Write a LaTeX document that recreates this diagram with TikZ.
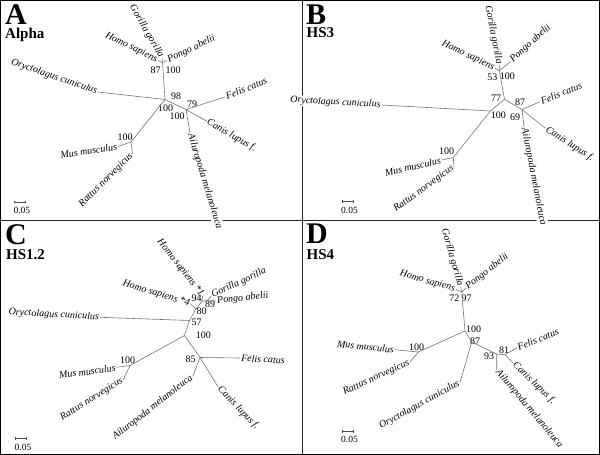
\documentclass[tikz,border=0pt]{standalone}
\usepackage{fontspec}
\setmainfont{Liberation Serif}
\usetikzlibrary{arrows.meta}

\begin{document}
\begin{tikzpicture}[x=1pt, y=-1pt,
  br/.style={draw=black!55, line width=0.6pt},
  tax/.style={font=\fontsize{10}{10}\selectfont\itshape, inner sep=1pt},
  cut/.style={tax, fill=white},
  bs/.style={font=\fontsize{10}{10}\selectfont, inner sep=0pt},
  let/.style={font=\fontsize{30}{30}\selectfont\bfseries, anchor=base west, inner sep=0pt},
  ttl/.style={font=\fontsize{15}{15}\selectfont\bfseries, anchor=base west, inner sep=0pt},
  sc/.style={font=\fontsize{9.5}{9.5}\selectfont, anchor=west, inner sep=0pt},
  bar/.style={draw=black!70, line width=0.5pt, {Bar[width=2.5pt]}-{Bar[width=2.5pt]}}
]
  \useasboundingbox (0,0) rectangle (600,455);
  % frame and panel dividers
  \draw[line width=1.2pt] (0.6,0.6) rectangle (599.4,454.4);
  \draw[line width=1pt, draw=black!85] (302.5,0) -- (302.5,455);
  \draw[line width=1pt, draw=black!85] (0,220) -- (600,220);

  % ---------- Panel A: Alpha ----------
  \node[let] (aLet) at (5,24) {A};
  \node[ttl] (aTtl) at (5,38.3) {Alpha};
  \coordinate (aR) at (165,99.5);
  \coordinate (aP) at (162.5,62.5);
  \coordinate (aC) at (186,109.5);
  \coordinate (aM) at (131,142);
  \coordinate (aHs) at (158,60.5);
  \coordinate (aGg) at (162,58);
  \coordinate (aPa) at (167,60.5);
  \coordinate (aOc) at (98,92);
  \coordinate (aFc) at (225,97);
  \coordinate (aCl) at (206.5,121);
  \coordinate (aAm) at (190,133);
  \coordinate (aMm) at (118,146.5);
  \coordinate (aRn) at (132.5,154);
  \node[tax, anchor=east, rotate=-19] (aOcL) at (aOc) {Oryctolagus cuniculus};
  \node[tax, anchor=east, rotate=-26] (aHsL) at (aHs) {Homo sapiens};
  \node[tax, anchor=east, rotate=-60] (aGgL) at (aGg) {Gorilla gorilla};
  \node[tax, anchor=west, rotate=25] (aPaL) at (aPa) {Pongo abelii};
  \node[tax, anchor=west, rotate=22] (aFcL) at (aFc) {Felis catus};
  \node[tax, anchor=west, rotate=-30] (aClL) at (aCl) {Canis lupus f.};
  \node[cut, anchor=west, rotate=-73] (aAmL) at (aAm) {Ailuropoda melanoleuca};
  \node[tax, anchor=east, rotate=9] (aMmL) at (aMm) {Mus musculus};
  \node[tax, anchor=east, rotate=45] (aRnL) at (aRn) {Rattus norvegicus};
  \node[bs] (a87) at (155.7,70) {87};
  \node[bs] (a100p) at (173,70) {100};
  \node[bs] (a98) at (176,96) {98};
  \node[bs] (a100r) at (165.5,108.5) {100};
  \node[bs] (a100c) at (177,116) {100};
  \node[bs] (a79) at (192,104) {79};
  \node[bs] (a100m) at (125,137) {100};
  \draw[br] (aR) -- (aOc) (aR) -- (aP) (aR) -- (aC) (aR) -- (aM)
    (aP) -- (aHs) (aP) -- (aGg) (aP) -- (aPa)
    (aC) -- (aFc) (aC) -- (aCl) (aC) -- (aAm)
    (aM) -- (aMm) (aM) -- (aRn);
  \coordinate (aS1) at (14,202);
  \coordinate (aS2) at (25.5,202);
  \draw[bar] (aS1) -- (aS2);
  \node[sc] (aSl) at (13.3,210.5) {0.05};

  % ---------- Panel B: HS3 ----------
  \node[let] (bLet) at (306,24) {B};
  \node[ttl] (bTtl) at (306.5,37.7) {HS3};
  \coordinate (bR) at (490.5,111);
  \coordinate (bN) at (504.5,99.3);
  \coordinate (bP) at (499.3,70.7);
  \coordinate (bC) at (522,109.5);
  \coordinate (bM) at (453.3,157.5);
  \coordinate (bHs) at (495,68.3);
  \coordinate (bGg) at (499.3,65);
  \coordinate (bPa) at (510.5,61.7);
  \coordinate (bOc) at (381.7,105);
  \coordinate (bFc) at (540,101.7);
  \coordinate (bCl) at (545.5,128.3);
  \coordinate (bAm) at (524,127);
  \coordinate (bMm) at (441.7,160);
  \coordinate (bRn) at (454,167);
  \node[cut, anchor=east, rotate=-3] (bOcL) at (bOc) {Oryctolagus cuniculus};
  \node[tax, anchor=east, rotate=-25] (bHsL) at (bHs) {Homo sapiens};
  \node[tax, anchor=east, rotate=-79] (bGgL) at (bGg) {Gorilla gorilla};
  \node[tax, anchor=west, rotate=42] (bPaL) at (bPa) {Pongo abelii};
  \node[tax, anchor=west, rotate=22] (bFcL) at (bFc) {Felis catus};
  \node[tax, anchor=west, rotate=-33] (bClL) at (bCl) {Canis lupus f.};
  \node[cut, anchor=west, rotate=-79] (bAmL) at (bAm) {Ailuropoda melanoleuca};
  \node[tax, anchor=east, rotate=13] (bMmL) at (bMm) {Mus musculus};
  \node[tax, anchor=east, rotate=36] (bRnL) at (bRn) {Rattus norvegicus};
  \node[bs] (b53) at (492.3,77.7) {53};
  \node[bs] (b100p) at (507.3,76.7) {100};
  \node[bs] (b77) at (496,98.3) {77};
  \node[bs] (b100r) at (498.3,115) {100};
  \node[bs] (b87) at (520,102.7) {87};
  \node[bs] (b69) at (515,117.3) {69};
  \node[bs] (b100m) at (446.7,151.7) {100};
  \draw[br] (bR) -- (bOc) (bR) -- (bN) (bR) -- (bM)
    (bN) -- (bP) (bN) -- (bC)
    (bP) -- (bHs) (bP) -- (bGg) (bP) -- (bPa)
    (bC) -- (bFc) (bC) -- (bCl) (bC) -- (bAm)
    (bM) -- (bMm) (bM) -- (bRn);
  \coordinate (bS1) at (341.7,201.7);
  \coordinate (bS2) at (353.3,201.7);
  \draw[bar] (bS1) -- (bS2);
  \node[sc] (bSl) at (341,210.7) {0.05};

  % ---------- Panel C: HS1.2 ----------
  \node[let] (cLet) at (5,244) {C};
  \node[ttl] (cTtl) at (6,259) {HS1.2};
  \coordinate (cR) at (184.5,335.5);
  \coordinate (cO) at (189.5,320.5);
  \coordinate (cQ) at (196,309);
  \coordinate (cP) at (202,301);
  \coordinate (cG) at (207,301);
  \coordinate (cC) at (200,357.5);
  \coordinate (cM) at (130,365.5);
  \coordinate (cH1) at (202.5,296);
  \coordinate (cH4) at (190.5,304);
  \coordinate (cGg) at (211,296);
  \coordinate (cPa) at (216,301);
  \coordinate (cOc) at (100,317.3);
  \coordinate (cFc) at (240,358);
  \coordinate (cCl) at (218.3,387.3);
  \coordinate (cAm) at (192.7,376.3);
  \coordinate (cMm) at (116.7,367.3);
  \coordinate (cRn) at (123.3,379.7);
  \node[tax, anchor=east, rotate=-52] (cH1L) at (cH1) {Homo sapiens *1};
  \node[tax, anchor=east, rotate=-17] (cH4L) at (cH4) {Homo sapiens *4};
  \node[tax, anchor=west, rotate=25] (cGgL) at (cGg) {Gorilla gorilla};
  \node[tax, anchor=west, rotate=6] (cPaL) at (cPa) {Pongo abelii};
  \node[tax, anchor=east, rotate=-3] (cOcL) at (cOc) {Oryctolagus cuniculus};
  \node[tax, anchor=west, rotate=-3] (cFcL) at (cFc) {Felis catus};
  \node[tax, anchor=west, rotate=-46] (cClL) at (cCl) {Canis lupus f.};
  \node[tax, anchor=east, rotate=38] (cAmL) at (cAm) {Ailuropoda melanoleuca};
  \node[tax, anchor=east, rotate=8] (cMmL) at (cMm) {Mus musculus};
  \node[tax, anchor=east, rotate=32] (cRnL) at (cRn) {Rattus norvegicus};
  \node[bs] (c94) at (196.7,298) {94};
  \node[bs] (c89) at (210,304.7) {89};
  \node[bs] (c80) at (201.7,311.3) {80};
  \node[bs] (c57) at (196.7,322) {57};
  \node[bs] (c100r) at (203.3,335.3) {100};
  \node[bs] (c85) at (190.7,359.7) {85};
  \node[bs] (c100m) at (127.7,360.7) {100};
  \draw[br] (cR) -- (cO) (cR) -- (cC) (cR) -- (cM)
    (cO) -- (cOc) (cO) -- (cQ)
    (cQ) -- (cH4) (cQ) -- (cP)
    (cP) -- (cH1) (cP) -- (cG)
    (cG) -- (cGg) (cG) -- (cPa)
    (cC) -- (cFc) (cC) -- (cCl) (cC) -- (cAm)
    (cM) -- (cMm) (cM) -- (cRn);
  \coordinate (cS1) at (15,438.7);
  \coordinate (cS2) at (26.7,438.7);
  \draw[bar] (cS1) -- (cS2);
  \node[sc] (cSl) at (14.5,447) {0.05};

  % ---------- Panel D: HS4 ----------
  \node[let] (dLet) at (306,243) {D};
  \node[ttl] (dTtl) at (306.5,259) {HS4};
  \coordinate (dR) at (465,331);
  \coordinate (dN) at (471.7,342);
  \coordinate (dC) at (496.7,354);
  \coordinate (dF) at (505,354.7);
  \coordinate (dP) at (461.7,292);
  \coordinate (dM) at (418.3,352);
  \coordinate (dHs) at (456,289.5);
  \coordinate (dGg) at (460.7,287);
  \coordinate (dPa) at (466,288);
  \coordinate (dOc) at (460,382.5);
  \coordinate (dFc) at (516.7,348);
  \coordinate (dCl) at (513.3,363);
  \coordinate (dAm) at (496.7,370);
  \coordinate (dMm) at (395,349.7);
  \coordinate (dRn) at (410,362);
  \node[tax, anchor=east, rotate=-16] (dHsL) at (dHs) {Homo sapiens};
  \node[tax, anchor=east, rotate=-74] (dGgL) at (dGg) {Gorilla gorilla};
  \node[tax, anchor=west, rotate=38] (dPaL) at (dPa) {Pongo abelii};
  \node[tax, anchor=east, rotate=29] (dOcL) at (dOc) {Oryctolagus cuniculus};
  \node[tax, anchor=west, rotate=22] (dFcL) at (dFc) {Felis catus};
  \node[tax, anchor=west, rotate=-44] (dClL) at (dCl) {Canis lupus f.};
  \node[tax, anchor=west, rotate=-50] (dAmL) at (dAm) {Ailuropoda melanoleuca};
  \node[tax, anchor=east, rotate=-6] (dMmL) at (dMm) {Mus musculus};
  \node[tax, anchor=east, rotate=25] (dRnL) at (dRn) {Rattus norvegicus};
  \node[bs] (d72) at (454.3,298) {72};
  \node[bs] (d97) at (466.7,298) {97};
  \node[bs] (d100r) at (473.5,329) {100};
  \node[bs] (d87) at (475,341) {87};
  \node[bs] (d93) at (489,356.5) {93};
  \node[bs] (d81) at (504,350.5) {81};
  \node[bs] (d100m) at (416.5,347.3) {100};
  \draw[br] (dR) -- (dP) (dR) -- (dN) (dR) -- (dM)
    (dP) -- (dHs) (dP) -- (dGg) (dP) -- (dPa)
    (dN) -- (dOc) (dN) -- (dC)
    (dC) -- (dAm) (dC) -- (dF)
    (dF) -- (dFc) (dF) -- (dCl)
    (dM) -- (dMm) (dM) -- (dRn);
  \coordinate (dS1) at (341.7,431.3);
  \coordinate (dS2) at (353.3,431.3);
  \draw[bar] (dS1) -- (dS2);
  \node[sc] (dSl) at (341,439.7) {0.05};
\end{tikzpicture}
\end{document}
